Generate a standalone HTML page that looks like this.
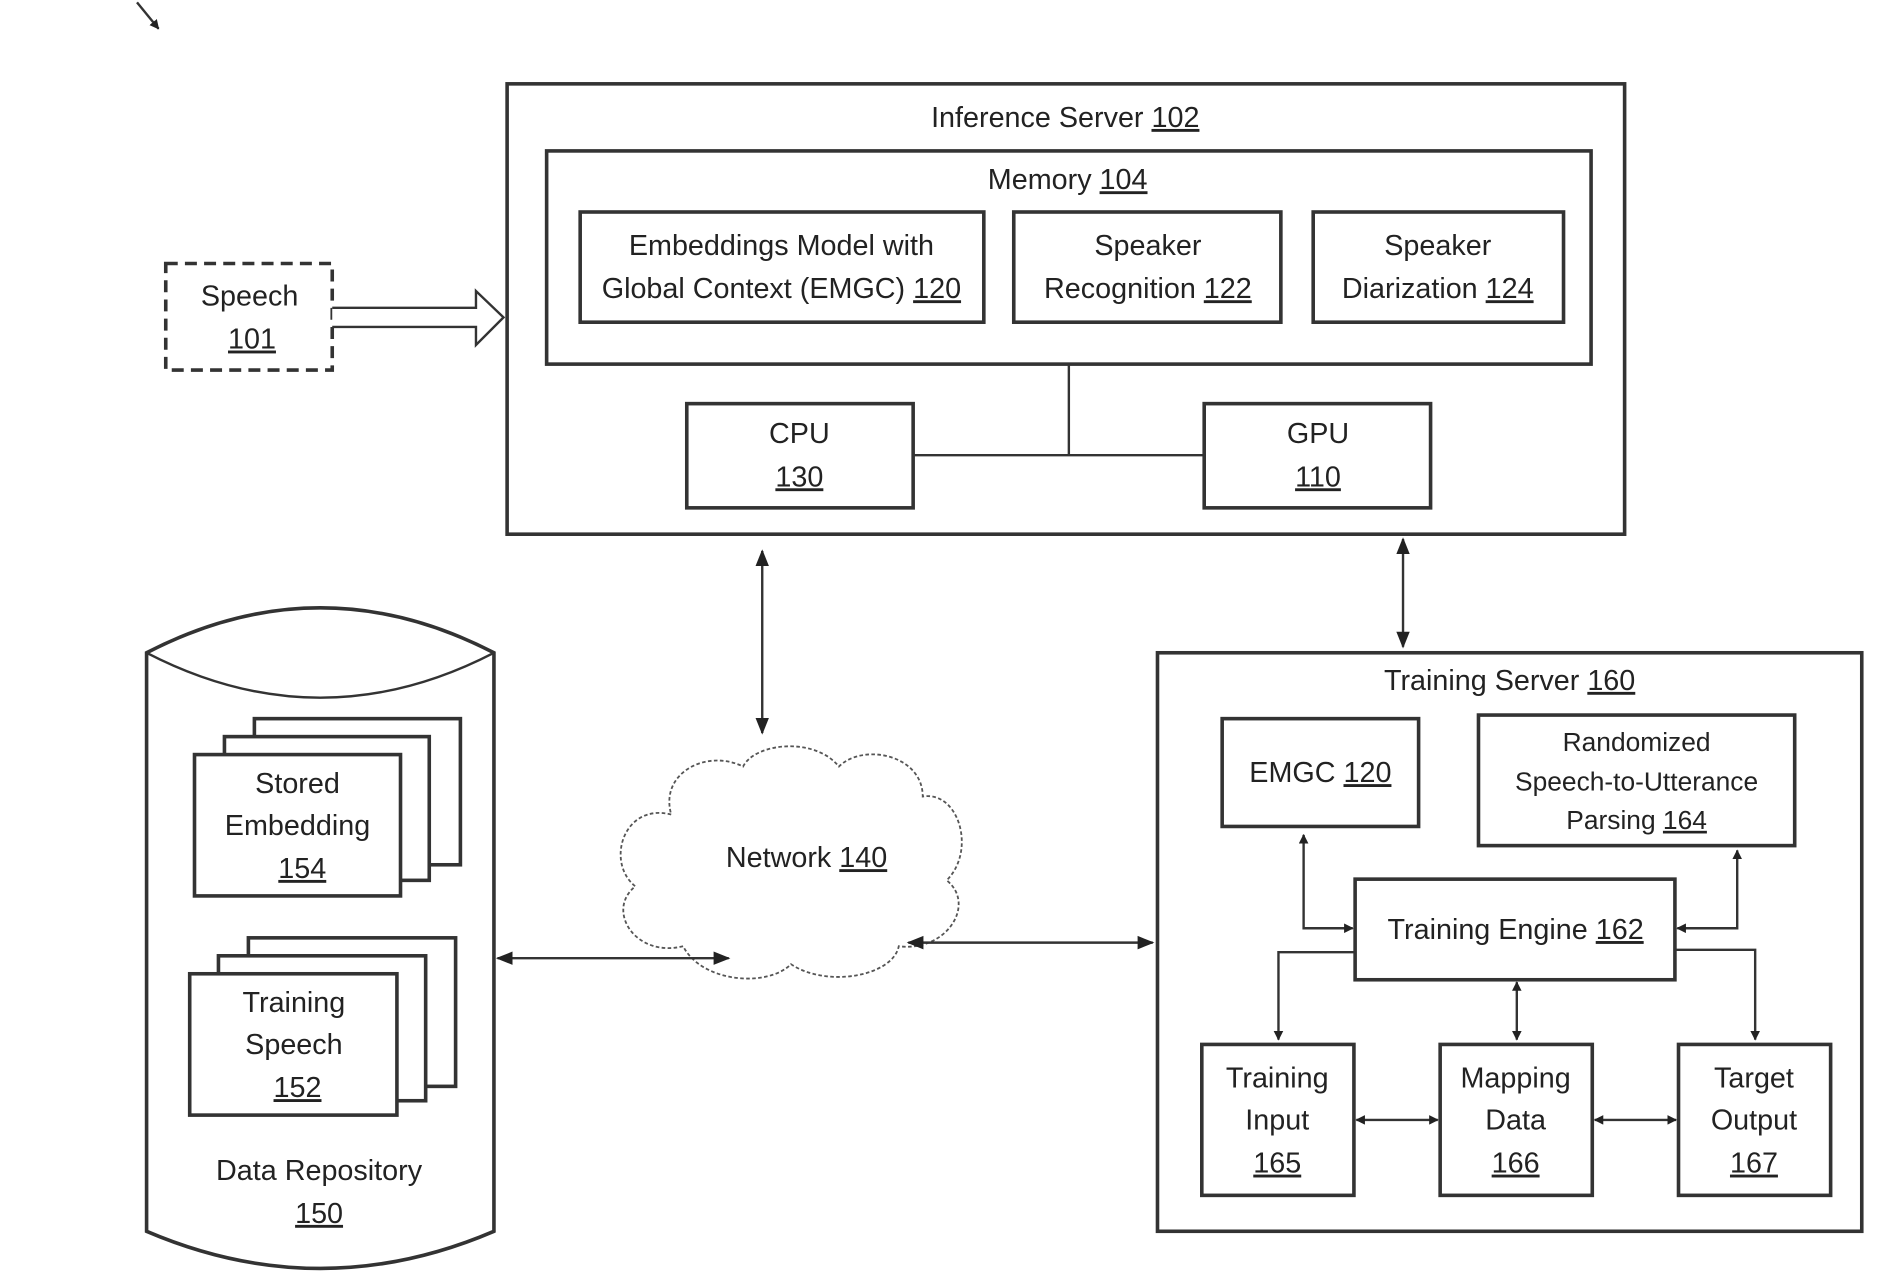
<!DOCTYPE html>
<html><head><meta charset="utf-8"><style>
html,body{margin:0;padding:0;background:#fff}
svg{display:block}
text{font-family:"Liberation Sans",sans-serif;font-size:24px;fill:#222;text-anchor:middle}
.b{fill:#fff;stroke:#333;stroke-width:3}
.l{fill:none;stroke:#333;stroke-width:2}
</style></head><body>
<svg width="1879" height="1278" viewBox="0 0 1568 1067" xmlns="http://www.w3.org/2000/svg">
<defs>
<marker id="a" viewBox="0 0 10 10" refX="9" refY="5" markerWidth="8" markerHeight="8" orient="auto-start-reverse" markerUnits="userSpaceOnUse"><path d="M0,0 L10,5 L0,10 z" fill="#222"/></marker>
<marker id="A" viewBox="0 0 10 10" refX="9" refY="5" markerWidth="14" markerHeight="14" orient="auto-start-reverse" markerUnits="userSpaceOnUse"><path d="M0,1 L10,5 L0,9 z" fill="#222"/></marker>
</defs>
<!-- top-left arrow -->
<path d="M114,2 L132,24" class="l" marker-end="url(#a)"/>

<!-- Inference server -->
<rect class="b" x="423" y="70" width="933" height="376"/>
<text x="889" y="106">Inference Server <tspan text-decoration="underline">102</tspan></text>
<rect class="b" x="456" y="126" width="872" height="178"/>
<text x="891" y="158">Memory  <tspan text-decoration="underline">104</tspan></text>
<rect class="b" x="484" y="177" width="337" height="92"/>
<text x="652" y="213">Embeddings Model with</text>
<text x="652" y="249">Global Context (EMGC) <tspan text-decoration="underline">120</tspan></text>
<rect class="b" x="846" y="177" width="223" height="92"/>
<text x="958" y="213">Speaker</text>
<text x="958" y="249">Recognition <tspan text-decoration="underline">122</tspan></text>
<rect class="b" x="1096" y="177" width="209" height="92"/>
<text x="1200" y="213">Speaker</text>
<text x="1200" y="249">Diarization <tspan text-decoration="underline">124</tspan></text>
<path class="l" d="M892,304 V380 M762,380 H1005"/>
<rect class="b" x="573" y="337" width="189" height="87"/>
<text x="667" y="370">CPU</text>
<text x="667" y="406" text-decoration="underline">130</text>
<rect class="b" x="1005" y="337" width="189" height="87"/>
<text x="1100" y="370">GPU</text>
<text x="1100" y="406" text-decoration="underline">110</text>

<!-- Speech -->
<rect x="138" y="220" width="139" height="89" fill="none" stroke="#333" stroke-width="3" stroke-dasharray="10,6"/>
<text x="208" y="255">Speech</text>
<text x="210" y="291" text-decoration="underline">101</text>
<path d="M277,257 H397 V243 L420,265 L397,288 V273 H277" fill="#fff" stroke="#333" stroke-width="2"/>

<!-- vertical links -->
<path class="l" d="M636,460 V612" marker-start="url(#A)" marker-end="url(#A)"/>
<path class="l" d="M1171,450 V540" marker-start="url(#A)" marker-end="url(#A)"/>

<!-- Cloud -->
<path d="M560,680 C520,670 505,720 530,740 C505,760 530,800 570,790 C585,820 640,825 660,805 C690,825 745,815 750,790 C790,795 815,755 790,735 C815,710 800,660 770,665 C770,630 720,620 700,640 C680,615 630,620 620,640 C590,625 550,645 560,680 Z" fill="#fff" stroke="#555" stroke-width="1.5" stroke-dasharray="3,2"/>
<text x="673" y="724">Network <tspan text-decoration="underline">140</tspan></text>
<path class="l" d="M415,800 H608" marker-start="url(#A)" marker-end="url(#A)"/>
<path class="l" d="M758,787 H962" marker-start="url(#A)" marker-end="url(#A)"/>

<!-- Data repository -->
<path d="M122,545 Q267,470 412,545 V1028 Q267,1090 122,1028 Z" fill="#fff" stroke="#333" stroke-width="3"/>
<path d="M122,545 Q267,620 412,545" class="l" stroke-width="3"/>
<rect class="b" x="212" y="600" width="172" height="122"/>
<rect class="b" x="187" y="615" width="171" height="120"/>
<rect class="b" x="162" y="630" width="172" height="118"/>
<text x="248" y="662">Stored</text>
<text x="248" y="697">Embedding</text>
<text x="252" y="733" text-decoration="underline">154</text>
<rect class="b" x="207" y="783" width="173" height="124"/>
<rect class="b" x="182" y="798" width="173" height="121"/>
<rect class="b" x="158" y="813" width="173" height="118"/>
<text x="245" y="845">Training</text>
<text x="245" y="880">Speech</text>
<text x="248" y="916" text-decoration="underline">152</text>
<text x="266" y="985">Data Repository</text>
<text x="266" y="1021" text-decoration="underline">150</text>

<!-- Training server -->
<rect class="b" x="966" y="545" width="588" height="483"/>
<text x="1260" y="576">Training Server <tspan text-decoration="underline">160</tspan></text>
<rect class="b" x="1020" y="600" width="164" height="90"/>
<text x="1102" y="653">EMGC <tspan text-decoration="underline">120</tspan></text>
<rect class="b" x="1234" y="597" width="264" height="109"/>
<text x="1366" y="627" style="font-size:22px">Randomized</text>
<text x="1366" y="660" style="font-size:22px">Speech-to-Utterance</text>
<text x="1366" y="692" style="font-size:22px">Parsing <tspan text-decoration="underline">164</tspan></text>
<rect class="b" x="1131" y="734" width="267" height="84"/>
<text x="1265" y="784">Training Engine  <tspan text-decoration="underline">162</tspan></text>
<rect class="b" x="1003" y="872" width="127" height="126"/>
<text x="1066" y="908">Training</text>
<text x="1066" y="943">Input</text>
<text x="1066" y="979" text-decoration="underline">165</text>
<rect class="b" x="1202" y="872" width="127" height="126"/>
<text x="1265" y="908">Mapping</text>
<text x="1265" y="943">Data</text>
<text x="1265" y="979" text-decoration="underline">166</text>
<rect class="b" x="1401" y="872" width="127" height="126"/>
<text x="1464" y="908">Target</text>
<text x="1464" y="943">Output</text>
<text x="1464" y="979" text-decoration="underline">167</text>

<path class="l" d="M1088,697 V775 H1129" marker-start="url(#a)" marker-end="url(#a)"/>
<path class="l" d="M1450,710 V775 H1400" marker-start="url(#a)" marker-end="url(#a)"/>
<path class="l" d="M1131,795 H1067 V868" marker-end="url(#a)"/>
<path class="l" d="M1398,793 H1465 V868" marker-end="url(#a)"/>
<path class="l" d="M1266,820 V868" marker-start="url(#a)" marker-end="url(#a)"/>
<path class="l" d="M1132,935 H1200" marker-start="url(#a)" marker-end="url(#a)"/>
<path class="l" d="M1331,935 H1399" marker-start="url(#a)" marker-end="url(#a)"/>
</svg>
</body></html>
